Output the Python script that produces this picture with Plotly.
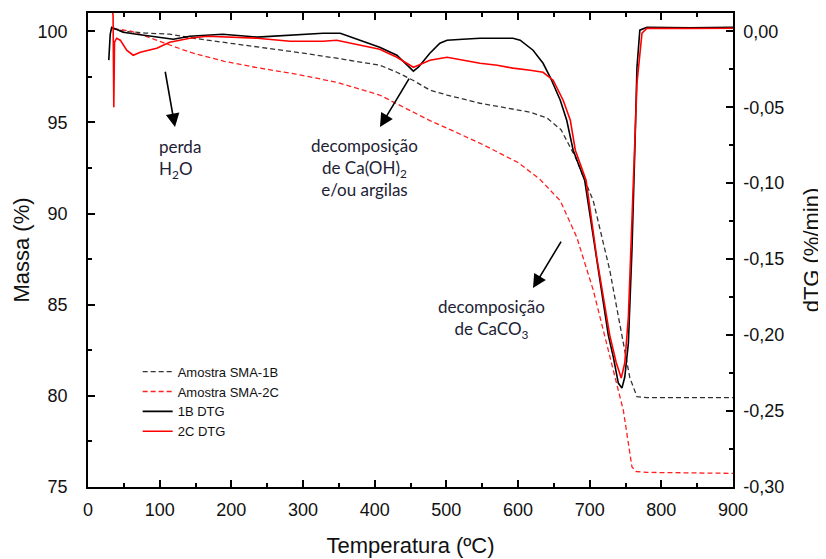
import plotly.graph_objects as go

# ---------------- data ----------------
# Mass curves (left axis, %)
temp_1b = [33, 50, 80, 114, 150, 200, 236, 300, 347, 407, 431, 454, 477, 501, 547, 617, 640,
           660, 680, 705, 728, 742, 756, 766, 780, 900]
mass_1b = [100.16, 100.0, 99.9, 99.84, 99.6, 99.34, 99.12, 98.8, 98.52, 98.14, 97.75, 97.3, 96.77,
           96.5, 96.05, 95.56, 95.25, 94.6, 93.1, 90.7, 86.9, 84.0, 81.0, 79.95, 79.9, 79.9]

temp_2c = [36, 60, 77, 114, 142, 190, 236, 290, 347, 407, 477, 500, 550, 600, 630, 659, 682, 705,
           728, 747, 754, 759, 765, 780, 900]
mass_2c = [100.15, 100.0, 99.78, 99.23, 98.85, 98.35, 98.0, 97.65, 97.2, 96.5, 95.1, 94.7, 93.8,
           92.8, 91.9, 90.7, 88.7, 85.8, 82.1, 79.2, 77.4, 76.1, 75.85, 75.8, 75.75]

# DTG curves (right axis, %/min)
temp_dtg_1b = [29, 31, 33, 49, 68, 96, 119, 142, 188, 236, 282, 328, 352, 380, 407, 431, 449, 454,
               461, 477, 491, 501, 523, 547, 593, 603, 621, 635, 645, 659, 668, 677, 693, 710,
               726, 733, 740, 745, 749, 754, 759, 763, 766, 770, 780, 840, 900]
dtg_1b = [-0.0190, -0.0020, 0.0026, -0.0007, -0.0020, -0.0039, -0.0053, -0.0033, -0.0020, -0.0039,
          -0.0026, -0.0013, -0.0013, -0.0059, -0.0105, -0.0158, -0.0243, -0.0263, -0.0237, -0.0145,
          -0.0079, -0.0059, -0.0053, -0.0046, -0.0046, -0.0059, -0.0125, -0.0211, -0.0303, -0.0454,
          -0.0586, -0.0783, -0.0980, -0.1493, -0.2000, -0.2145, -0.2316, -0.2349, -0.2276, -0.2053,
          -0.1441, -0.0783, -0.0237, 0.0007, 0.0026, 0.0022, 0.0026]

temp_dtg_2c = [34, 35, 36, 37, 40, 45, 54, 63, 73, 96, 114, 142, 166, 212, 236, 282, 328, 347, 407,
               431, 454, 461, 477, 501, 523, 547, 571, 593, 617, 635, 649, 663, 673, 680, 695, 710,
               728, 737, 744, 749, 754, 759, 762, 766, 773, 780, 840, 900]
dtg_2c = [0.0150, 0.0100, -0.0500, -0.0072, -0.0046, -0.0059, -0.0125, -0.0158, -0.0138, -0.0112,
          -0.0072, -0.0046, -0.0033, -0.0039, -0.0046, -0.0066, -0.0066, -0.0059, -0.0118, -0.0171,
          -0.0237, -0.0224, -0.0191, -0.0171, -0.0191, -0.0211, -0.0224, -0.0243, -0.0257, -0.0270,
          -0.0322, -0.0454, -0.0586, -0.0783, -0.0980, -0.1493, -0.2000, -0.2180, -0.2283, -0.2184,
          -0.1882, -0.1224, -0.0783, -0.0342, -0.0013, 0.0020, 0.0018, 0.0020]

right_tick_vals = [0.0, -0.05, -0.10, -0.15, -0.20, -0.25, -0.30]
right_tick_text = ["0,00", "-0,05", "-0,10", "-0,15", "-0,20", "-0,25", "-0,30"]

# ---------------- figure ----------------
fig = go.Figure()
fig.add_trace(go.Scatter(x=temp_1b, y=mass_1b, name="Amostra SMA-1B", mode="lines",
                         line=dict(color="#333333", width=1.3, dash="5px,3px"), yaxis="y"))
fig.add_trace(go.Scatter(x=temp_2c, y=mass_2c, name="Amostra SMA-2C", mode="lines",
                         line=dict(color="#ff2020", width=1.3, dash="5px,3px"), yaxis="y"))
fig.add_trace(go.Scatter(x=temp_dtg_1b, y=dtg_1b, name="1B DTG", mode="lines",
                         line=dict(color="#000000", width=1.6), yaxis="y2"))
fig.add_trace(go.Scatter(x=temp_dtg_2c, y=dtg_2c, name="2C DTG", mode="lines",
                         line=dict(color="#ff0000", width=1.6), yaxis="y2"))

tick_font = dict(family="Liberation Sans, Arial, sans-serif", size=18, color="#111111")
title_font = dict(family="Liberation Sans, Arial, sans-serif", size=22, color="#111111")
note_font = dict(family="Lato, Open Sans, sans-serif", size=17, color="#1c2233")

# the page body adds an 8px offset, so the figure is 8px smaller than the window
fig.update_layout(
    width=818, height=551,
    margin=dict(l=80, r=93, t=5, b=72),
    paper_bgcolor="white", plot_bgcolor="white",
    showlegend=True,
    legend=dict(x=0.077, y=0.275, xanchor="left", yanchor="top",
                bgcolor="rgba(0,0,0,0)", font=dict(family="Liberation Sans, Arial, sans-serif",
                                                   size=13, color="#111111"),
                tracegroupgap=0, itemwidth=30),
    xaxis=dict(range=[0, 900], showline=True, linecolor="black", linewidth=1.5, mirror="ticks",
               ticks="inside", ticklen=7, tickwidth=1.5, tickcolor="black", dtick=100,
               showgrid=False, zeroline=False, tickfont=tick_font, ticklabelstandoff=6,
               automargin=False,
               minor=dict(ticks="inside", ticklen=4, dtick=50, tickcolor="black", showgrid=False),
               title=dict(text="Temperatura (ºC)", font=title_font, standoff=18)),
    yaxis=dict(range=[75, 101], showline=True, linecolor="black", linewidth=1.5,
               ticks="inside", ticklen=7, tickwidth=1.5, tickcolor="black", dtick=5,
               showgrid=False, zeroline=False, tickfont=tick_font, ticklabelstandoff=15,
               automargin=False,
               minor=dict(ticks="inside", ticklen=4, dtick=2.5, tickcolor="black", showgrid=False),
               title=dict(text="Massa (%)", font=title_font, standoff=2)),
    yaxis2=dict(range=[-0.30, 0.012], overlaying="y", side="right", showline=True,
                linecolor="black", linewidth=1.5, ticks="inside", ticklen=7, tickwidth=1.5,
                tickcolor="black", tickvals=right_tick_vals, ticktext=right_tick_text,
                showgrid=False, zeroline=False, tickfont=tick_font, ticklabelstandoff=5,
                automargin=False,
                minor=dict(ticks="inside", ticklen=4, dtick=0.025, tickcolor="black", showgrid=False),
                title=dict(text="dTG (%/min)", font=title_font, standoff=20)),
)

# arrows
arrows = [
    dict(x=121.4, y=94.74, ax=107.4, ay=97.86),
    dict(x=407.4, y=94.74, ax=449.3, ay=97.48),
    dict(x=620.9, y=85.91, ax=661.4, ay=88.54),
]
for a in arrows:
    fig.add_annotation(x=a["x"], y=a["y"], ax=a["ax"], ay=a["ay"], xref="x", yref="y",
                       axref="x", ayref="y", text="", showarrow=True, arrowhead=2,
                       arrowsize=1.7, arrowwidth=1.6, arrowcolor="black")

fig.add_annotation(x=96, y=93.0, xref="x", yref="y", text="perda<br>H<sub>2</sub>O",
                   showarrow=False, xanchor="left", yanchor="middle", align="left", font=note_font)
fig.add_annotation(x=386.5, y=92.5, xref="x", yref="y",
                   text="decomposição<br>de Ca(OH)<sub>2</sub><br>e/ou argilas",
                   showarrow=False, xanchor="center", yanchor="middle", align="center", font=note_font)
fig.add_annotation(x=563.7, y=84.21, xref="x", yref="y", text="decomposição<br>de CaCO<sub>3</sub>",
                   showarrow=False, xanchor="center", yanchor="middle", align="center", font=note_font)

fig.write_html("out.html")
